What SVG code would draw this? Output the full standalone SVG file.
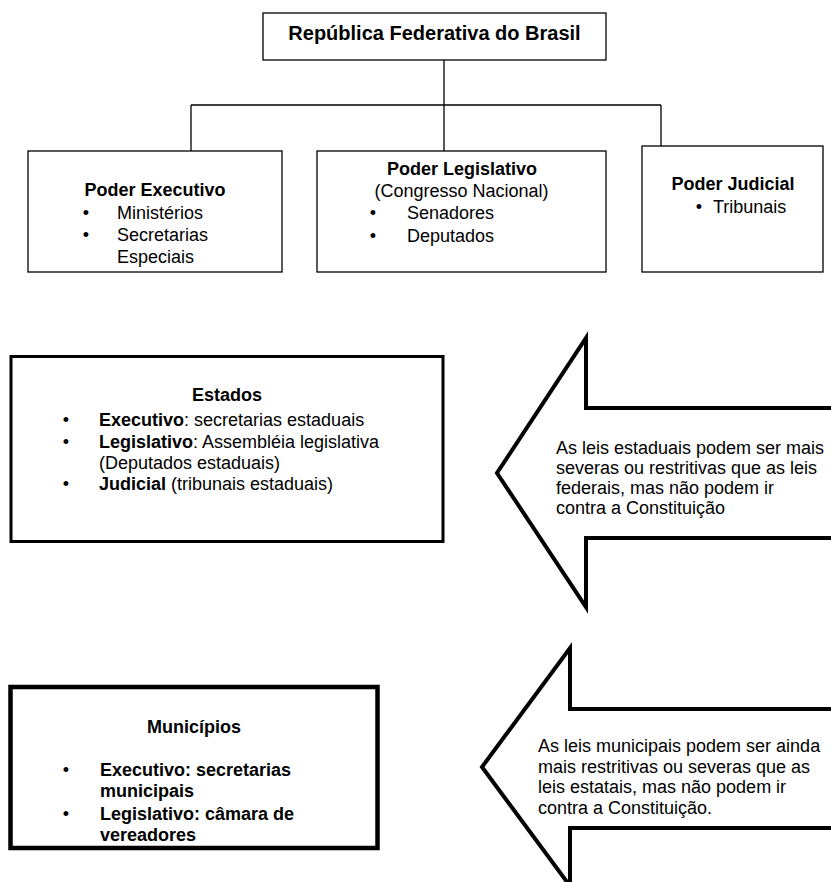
<svg xmlns="http://www.w3.org/2000/svg" width="831" height="882" viewBox="0 0 831 882">
<style>
text{font-family:"Liberation Sans",Arial,sans-serif;font-size:18px;fill:#000}
.b{font-weight:bold}
.c{text-anchor:middle}
.box{fill:#fff;stroke:#000;stroke-width:1.3}
.conn{fill:none;stroke:#000;stroke-width:1.3}
.arrow{fill:#fff;stroke:#000;stroke-width:4;stroke-linejoin:miter}
</style>
<rect width="831" height="882" fill="#fff"/>
<g id="connectors">
<line class="conn" x1="444" y1="60" x2="444" y2="151"/>
<line class="conn" x1="191" y1="105" x2="661" y2="105"/>
<line class="conn" x1="191" y1="105" x2="191" y2="151"/>
<line class="conn" x1="661" y1="105" x2="661" y2="151"/>
</g>
<g id="republica">
<rect class="box" x="263" y="13" width="343" height="47"/>
<text class="b c" x="434.5" y="40" style="font-size:20px">República Federativa do Brasil</text>
</g>
<g id="executivo">
<rect class="box" x="28" y="151" width="254" height="121"/>
<text class="b c" x="155" y="196">Poder Executivo</text>
<text class="c" x="86" y="219">•</text>
<text x="117" y="219">Ministérios</text>
<text class="c" x="86" y="241">•</text>
<text x="117" y="241">Secretarias</text>
<text x="117" y="263">Especiais</text>
</g>
<g id="legislativo">
<rect class="box" x="317" y="151" width="289" height="121"/>
<text class="b c" x="462" y="175">Poder Legislativo</text>
<text class="c" x="461.5" y="197">(Congresso Nacional)</text>
<text class="c" x="373" y="219">•</text>
<text x="407" y="219">Senadores</text>
<text class="c" x="373" y="242">•</text>
<text x="407" y="242">Deputados</text>
</g>
<g id="judicial">
<rect class="box" x="642" y="146" width="181" height="126"/>
<text class="b c" x="733" y="190">Poder Judicial</text>
<text class="c" x="699" y="213">•</text>
<text x="713" y="213">Tribunais</text>
</g>
<g id="estados">
<rect class="box" x="11" y="356.5" width="432" height="185" style="stroke-width:3"/>
<text class="b c" x="227" y="401">Estados</text>
<text class="c" x="66" y="426">•</text>
<text x="99" y="426"><tspan class="b">Executivo</tspan>: secretarias estaduais</text>
<text class="c" x="66" y="448">•</text>
<text x="99" y="448"><tspan class="b">Legislativo</tspan>: Assembléia legislativa</text>
<text x="99" y="469">(Deputados estaduais)</text>
<text class="c" x="66" y="490">•</text>
<text x="99" y="490"><tspan class="b">Judicial</tspan> (tribunais estaduais)</text>
</g>
<g id="seta-estados">
<polygon class="arrow" points="586,338 586,408 840,408 840,538 586,538 586,607 497,473"/>
<text x="556" y="454">As leis estaduais podem ser mais</text>
<text x="556" y="474">severas ou restritivas que as leis</text>
<text x="556" y="494">federais, mas não podem ir</text>
<text x="556" y="514">contra a Constituição</text>
</g>
<g id="municipios">
<rect class="box" x="10.5" y="687" width="367" height="161" style="stroke-width:4.5"/>
<text class="b c" x="194" y="733">Municípios</text>
<text class="c" x="66" y="776">•</text>
<text class="b" x="100" y="776">Executivo: secretarias</text>
<text class="b" x="100" y="797">municipais</text>
<text class="c" x="66" y="820">•</text>
<text class="b" x="100" y="820">Legislativo: câmara de</text>
<text class="b" x="100" y="841">vereadores</text>
</g>
<g id="seta-municipios">
<polygon class="arrow" points="570,648 570,709 840,709 840,828 570,828 570,886 482,767"/>
<text x="538" y="752">As leis municipais podem ser ainda</text>
<text x="538" y="773">mais restritivas ou severas que as</text>
<text x="538" y="793">leis estatais, mas não podem ir</text>
<text x="538" y="814">contra a Constituição.</text>
</g>
</svg>
